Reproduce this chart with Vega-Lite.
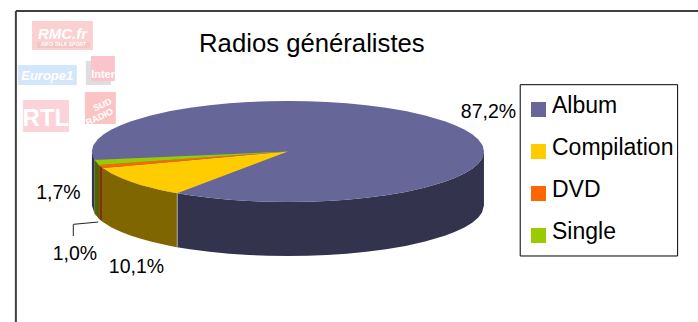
{
  "$schema": "https://vega.github.io/schema/vega-lite/v6.json",
  "width": 698,
  "height": 322,
  "autosize": {"type": "none"},
  "padding": 0,
  "background": "white",
  "view": {"stroke": null},
  "config": {"font": "Liberation Sans"},
  "datasets": {
    "disque": [
      {"tranche": "Album", "u": -1, "haut": 0, "bas": 0},
      {"tranche": "Album", "u": -0.995, "haut": 0.0999, "bas": -0.0999},
      {"tranche": "Album", "u": -0.99, "haut": 0.1411, "bas": -0.1411},
      {"tranche": "Album", "u": -0.97, "haut": 0.2431, "bas": -0.2431},
      {"tranche": "Album", "u": -0.94, "haut": 0.3412, "bas": -0.3412},
      {"tranche": "Album", "u": -0.9, "haut": 0.4359, "bas": -0.4359},
      {"tranche": "Album", "u": -0.85, "haut": 0.5268, "bas": -0.5268},
      {"tranche": "Album", "u": -0.8, "haut": 0.6, "bas": -0.6},
      {"tranche": "Album", "u": -0.7, "haut": 0.7141, "bas": -0.7141},
      {"tranche": "Album", "u": -0.6, "haut": 0.8, "bas": -0.8},
      {"tranche": "Album", "u": -0.5, "haut": 0.866, "bas": -0.866},
      {"tranche": "Album", "u": -0.4, "haut": 0.9165, "bas": -0.9165},
      {"tranche": "Album", "u": -0.3, "haut": 0.9539, "bas": -0.9539},
      {"tranche": "Album", "u": -0.2, "haut": 0.9798, "bas": -0.9798},
      {"tranche": "Album", "u": -0.1, "haut": 0.995, "bas": -0.995},
      {"tranche": "Album", "u": 0, "haut": 1, "bas": -1},
      {"tranche": "Album", "u": 0.1, "haut": 0.995, "bas": -0.995},
      {"tranche": "Album", "u": 0.2, "haut": 0.9798, "bas": -0.9798},
      {"tranche": "Album", "u": 0.3, "haut": 0.9539, "bas": -0.9539},
      {"tranche": "Album", "u": 0.4, "haut": 0.9165, "bas": -0.9165},
      {"tranche": "Album", "u": 0.5, "haut": 0.866, "bas": -0.866},
      {"tranche": "Album", "u": 0.6, "haut": 0.8, "bas": -0.8},
      {"tranche": "Album", "u": 0.7, "haut": 0.7141, "bas": -0.7141},
      {"tranche": "Album", "u": 0.8, "haut": 0.6, "bas": -0.6},
      {"tranche": "Album", "u": 0.85, "haut": 0.5268, "bas": -0.5268},
      {"tranche": "Album", "u": 0.9, "haut": 0.4359, "bas": -0.4359},
      {"tranche": "Album", "u": 0.94, "haut": 0.3412, "bas": -0.3412},
      {"tranche": "Album", "u": 0.97, "haut": 0.2431, "bas": -0.2431},
      {"tranche": "Album", "u": 0.99, "haut": 0.1411, "bas": -0.1411},
      {"tranche": "Album", "u": 0.995, "haut": 0.0999, "bas": -0.0999},
      {"tranche": "Album", "u": 1, "haut": 0, "bas": 0},

      {"tranche": "Compilation", "u": -0.9444, "haut": -0.3289, "bas": -0.3289},
      {"tranche": "Compilation", "u": -0.9, "haut": -0.3135, "bas": -0.4359},
      {"tranche": "Compilation", "u": -0.85, "haut": -0.2961, "bas": -0.5268},
      {"tranche": "Compilation", "u": -0.8, "haut": -0.2786, "bas": -0.6},
      {"tranche": "Compilation", "u": -0.75, "haut": -0.2612, "bas": -0.6614},
      {"tranche": "Compilation", "u": -0.7, "haut": -0.2438, "bas": -0.7141},
      {"tranche": "Compilation", "u": -0.65, "haut": -0.2264, "bas": -0.7599},
      {"tranche": "Compilation", "u": -0.6, "haut": -0.209, "bas": -0.8},
      {"tranche": "Compilation", "u": -0.565, "haut": -0.1968, "bas": -0.8251},
      {"tranche": "Compilation", "u": 0, "haut": 0, "bas": 0},

      {"tranche": "DVD", "u": -0.9632, "haut": -0.2689, "bas": -0.2689},
      {"tranche": "DVD", "u": -0.9444, "haut": -0.2637, "bas": -0.3289},
      {"tranche": "DVD", "u": 0, "haut": 0, "bas": 0},

      {"tranche": "Single", "u": -0.9863, "haut": -0.165, "bas": -0.165},
      {"tranche": "Single", "u": -0.9632, "haut": -0.1611, "bas": -0.2689},
      {"tranche": "Single", "u": 0, "haut": 0, "bas": 0}
    ],
    "flancs": [
      {"tranche": "Album", "segment": "gauche", "u": -1, "haut": 0, "bas": -1.069},
      {"tranche": "Album", "segment": "gauche", "u": -0.9863, "haut": -0.165, "bas": -1.234},

      {"tranche": "Single", "segment": "single", "u": -0.9863, "haut": -0.165, "bas": -1.234},
      {"tranche": "Single", "segment": "single", "u": -0.9632, "haut": -0.2689, "bas": -1.338},

      {"tranche": "DVD", "segment": "dvd", "u": -0.9632, "haut": -0.2689, "bas": -1.338},
      {"tranche": "DVD", "segment": "dvd", "u": -0.9444, "haut": -0.3289, "bas": -1.398},

      {"tranche": "Compilation", "segment": "compilation", "u": -0.9444, "haut": -0.3289, "bas": -1.398},
      {"tranche": "Compilation", "segment": "compilation", "u": -0.9, "haut": -0.4359, "bas": -1.505},
      {"tranche": "Compilation", "segment": "compilation", "u": -0.85, "haut": -0.5268, "bas": -1.596},
      {"tranche": "Compilation", "segment": "compilation", "u": -0.8, "haut": -0.6, "bas": -1.669},
      {"tranche": "Compilation", "segment": "compilation", "u": -0.75, "haut": -0.6614, "bas": -1.73},
      {"tranche": "Compilation", "segment": "compilation", "u": -0.7, "haut": -0.7141, "bas": -1.783},
      {"tranche": "Compilation", "segment": "compilation", "u": -0.65, "haut": -0.7599, "bas": -1.829},
      {"tranche": "Compilation", "segment": "compilation", "u": -0.6, "haut": -0.8, "bas": -1.869},
      {"tranche": "Compilation", "segment": "compilation", "u": -0.565, "haut": -0.8251, "bas": -1.894},

      {"tranche": "Album", "segment": "droite", "u": -0.565, "haut": -0.8251, "bas": -1.894},
      {"tranche": "Album", "segment": "droite", "u": -0.5, "haut": -0.866, "bas": -1.935},
      {"tranche": "Album", "segment": "droite", "u": -0.4, "haut": -0.9165, "bas": -1.986},
      {"tranche": "Album", "segment": "droite", "u": -0.3, "haut": -0.9539, "bas": -2.023},
      {"tranche": "Album", "segment": "droite", "u": -0.2, "haut": -0.9798, "bas": -2.049},
      {"tranche": "Album", "segment": "droite", "u": -0.1, "haut": -0.995, "bas": -2.064},
      {"tranche": "Album", "segment": "droite", "u": 0, "haut": -1, "bas": -2.069},
      {"tranche": "Album", "segment": "droite", "u": 0.1, "haut": -0.995, "bas": -2.064},
      {"tranche": "Album", "segment": "droite", "u": 0.2, "haut": -0.9798, "bas": -2.049},
      {"tranche": "Album", "segment": "droite", "u": 0.3, "haut": -0.9539, "bas": -2.023},
      {"tranche": "Album", "segment": "droite", "u": 0.4, "haut": -0.9165, "bas": -1.986},
      {"tranche": "Album", "segment": "droite", "u": 0.5, "haut": -0.866, "bas": -1.935},
      {"tranche": "Album", "segment": "droite", "u": 0.6, "haut": -0.8, "bas": -1.869},
      {"tranche": "Album", "segment": "droite", "u": 0.7, "haut": -0.7141, "bas": -1.783},
      {"tranche": "Album", "segment": "droite", "u": 0.8, "haut": -0.6, "bas": -1.669},
      {"tranche": "Album", "segment": "droite", "u": 0.85, "haut": -0.5268, "bas": -1.596},
      {"tranche": "Album", "segment": "droite", "u": 0.9, "haut": -0.4359, "bas": -1.505},
      {"tranche": "Album", "segment": "droite", "u": 0.94, "haut": -0.3412, "bas": -1.41},
      {"tranche": "Album", "segment": "droite", "u": 0.97, "haut": -0.2431, "bas": -1.312},
      {"tranche": "Album", "segment": "droite", "u": 0.99, "haut": -0.1411, "bas": -1.21},
      {"tranche": "Album", "segment": "droite", "u": 1, "haut": 0, "bas": -1.069}
    ],
    "pourcentages": [
      {"tranche": "Album", "part": 87.2, "texte": "87,2%", "u": 1.023, "v": 0.663},
      {"tranche": "Compilation", "part": 10.1, "texte": "10,1%", "u": -0.773, "v": -2.406},
      {"tranche": "DVD", "part": 1.0, "texte": "1,0%", "u": -1.087, "v": -2.149},
      {"tranche": "Single", "part": 1.7, "texte": "1,7%", "u": -1.171, "v": -0.941}
    ],
    "repere": [
      {"ordre": 1, "u": -1.095, "v": -1.673},
      {"ordre": 2, "u": -1.095, "v": -1.442},
      {"ordre": 3, "u": -0.968, "v": -1.396}
    ],
    "logos": [
      {"logo": "RMC", "u0": -1.306, "u1": -0.995, "v0": 2.584, "v1": 2.01},
      {"logo": "RMCBande", "u0": -1.28, "u1": -1.01, "v0": 2.17, "v1": 2.05},
      {"logo": "Europe", "u0": -1.378, "u1": -1.077, "v0": 1.713, "v1": 1.317},
      {"logo": "InterFond", "u0": -1.031, "u1": -0.903, "v0": 1.792, "v1": 1.317},
      {"logo": "Inter", "u0": -1.005, "u1": -0.883, "v0": 1.891, "v1": 1.396},
      {"logo": "RTL", "u0": -1.352, "u1": -1.117, "v0": 1.02, "v1": 0.386},
      {"logo": "Sud", "u0": -1.036, "u1": -0.878, "v0": 1.178, "v1": 0.545}
    ],
    "logoItaliques": [
      {"texte": "RMC.fr", "u": -1.15, "v": 2.22, "corps": 15},
      {"texte": "INFO TALK SPORT", "u": -1.145, "v": 2.08, "corps": 5},
      {"texte": "Europe1", "u": -1.228, "v": 1.41, "corps": 13}
    ],
    "logoDroits": [
      {"texte": "Inter", "u": -0.943, "v": 1.46, "corps": 11},
      {"texte": "RTL", "u": -1.235, "v": 0.5, "corps": 24}
    ],
    "logoSud": [
      {"texte": "SUD", "u": -0.94, "v": 0.87},
      {"texte": "RADIO", "u": -0.955, "v": 0.63}
    ]
  },
  "layer": [
    {
      "data": {"name": "logos"},
      "mark": {"type": "rect"},
      "encoding": {
        "x": {"field": "u0", "type": "quantitative", "scale": {"domain": [-1.469, 2.092], "nice": false, "zero": false}, "axis": null},
        "x2": {"field": "u1"},
        "y": {"field": "v0", "type": "quantitative", "scale": {"domain": [-3.376, 3.0], "nice": false, "zero": false}, "axis": null},
        "y2": {"field": "v1"},
        "color": {
          "field": "logo",
          "type": "nominal",
          "scale": {
            "domain": ["RMC", "RMCBande", "Europe", "InterFond", "Inter", "RTL", "Sud"],
            "range": ["#FBD0D0", "#F5C6C6", "#D3E6FA", "#DEDEDE", "#FBC4CC", "#FDD3DA", "#FBC4C4"]
          },
          "legend": null
        }
      }
    },
    {
      "data": {"name": "logoItaliques"},
      "mark": {"type": "text", "color": "white", "fontWeight": "bold", "fontStyle": "italic", "align": "center", "baseline": "alphabetic", "font": "Liberation Sans"},
      "encoding": {
        "x": {"field": "u", "type": "quantitative"},
        "y": {"field": "v", "type": "quantitative"},
        "text": {"field": "texte"},
        "size": {"field": "corps", "type": "quantitative", "scale": null}
      }
    },
    {
      "data": {"name": "logoDroits"},
      "mark": {"type": "text", "color": "white", "fontWeight": "bold", "align": "center", "baseline": "alphabetic", "font": "Liberation Sans"},
      "encoding": {
        "x": {"field": "u", "type": "quantitative"},
        "y": {"field": "v", "type": "quantitative"},
        "text": {"field": "texte"},
        "size": {"field": "corps", "type": "quantitative", "scale": null}
      }
    },
    {
      "data": {"name": "logoSud"},
      "mark": {"type": "text", "color": "white", "fontWeight": "bold", "fontSize": 9, "angle": -25, "align": "center", "baseline": "alphabetic", "font": "Liberation Sans"},
      "encoding": {
        "x": {"field": "u", "type": "quantitative"},
        "y": {"field": "v", "type": "quantitative"},
        "text": {"field": "texte"}
      }
    },
    {
      "data": {"name": "flancs"},
      "mark": {"type": "area", "interpolate": "linear"},
      "encoding": {
        "x": {"field": "u", "type": "quantitative"},
        "y": {"field": "haut", "type": "quantitative"},
        "y2": {"field": "bas"},
        "detail": {"field": "segment"},
        "color": {
          "field": "tranche",
          "type": "nominal",
          "scale": {
            "domain": ["Album", "Compilation", "DVD", "Single"],
            "range": ["#33334D", "#806600", "#803300", "#4D6600"]
          },
          "legend": null
        }
      }
    },
    {
      "data": {"values": [{"u": -0.565, "haut": -0.8251, "bas": -1.894}]},
      "mark": {"type": "rule", "color": "#A8A8A8", "strokeWidth": 1},
      "encoding": {
        "x": {"field": "u", "type": "quantitative"},
        "y": {"field": "haut", "type": "quantitative"},
        "y2": {"field": "bas"}
      }
    },
    {
      "data": {"name": "disque"},
      "mark": {"type": "area", "interpolate": "linear"},
      "encoding": {
        "x": {"field": "u", "type": "quantitative"},
        "y": {"field": "haut", "type": "quantitative"},
        "y2": {"field": "bas"},
        "color": {
          "field": "tranche",
          "type": "nominal",
          "scale": {
            "domain": ["Album", "Compilation", "DVD", "Single"],
            "range": ["#666699", "#FFCC00", "#FF6600", "#99CC00"]
          },
          "legend": {
            "orient": "none",
            "legendX": 527,
            "legendY": 98,
            "title": null,
            "symbolType": "square",
            "symbolSize": 225,
            "symbolStrokeWidth": 0,
            "labelFont": "Liberation Sans",
            "labelFontSize": 23,
            "labelColor": "black",
            "labelOffset": 2,
            "labelBaseline": "middle",
            "rowPadding": 18,
            "padding": 0,
            "zindex": 1,
            "encode": {"labels": {"update": {"dy": {"value": -4}}}}
          }
        }
      }
    },
    {
      "data": {"name": "repere"},
      "mark": {"type": "line", "color": "#222222", "strokeWidth": 1},
      "encoding": {
        "x": {"field": "u", "type": "quantitative"},
        "y": {"field": "v", "type": "quantitative"},
        "order": {"field": "ordre", "type": "quantitative"}
      }
    },
    {
      "data": {"name": "pourcentages"},
      "mark": {"type": "text", "fontSize": 19.5, "align": "center", "baseline": "alphabetic", "color": "black"},
      "encoding": {
        "x": {"field": "u", "type": "quantitative"},
        "y": {"field": "v", "type": "quantitative"},
        "text": {"field": "texte"}
      }
    },
    {
      "data": {"values": [{"titre": "Radios généralistes", "u": 0.122, "v": 1.97}]},
      "mark": {"type": "text", "fontSize": 25.7, "align": "center", "baseline": "alphabetic", "color": "black"},
      "encoding": {
        "x": {"field": "u", "type": "quantitative"},
        "y": {"field": "v", "type": "quantitative"},
        "text": {"field": "titre"}
      }
    },
    {
      "data": {"values": [{"u0": 1.185, "u1": 1.988, "v0": 1.323, "v1": -2.069}]},
      "mark": {"type": "rect", "filled": false, "stroke": "black", "strokeWidth": 1},
      "encoding": {
        "x": {"field": "u0", "type": "quantitative"},
        "x2": {"field": "u1"},
        "y": {"field": "v0", "type": "quantitative"},
        "y2": {"field": "v1"}
      }
    },
    {
      "data": {"values": [{"u": -1.388, "v0": 2.782, "v1": -3.376}]},
      "mark": {"type": "rule", "color": "#404040", "strokeWidth": 2},
      "encoding": {
        "x": {"field": "u", "type": "quantitative"},
        "y": {"field": "v0", "type": "quantitative"},
        "y2": {"field": "v1"}
      }
    },
    {
      "data": {"values": [{"u0": -1.388, "u1": 2.092, "v": 2.782}]},
      "mark": {"type": "rule", "color": "#404040", "strokeWidth": 2},
      "encoding": {
        "x": {"field": "u0", "type": "quantitative"},
        "x2": {"field": "u1"},
        "y": {"field": "v", "type": "quantitative"}
      }
    }
  ],
  "resolve": {"scale": {"color": "independent"}}
}
